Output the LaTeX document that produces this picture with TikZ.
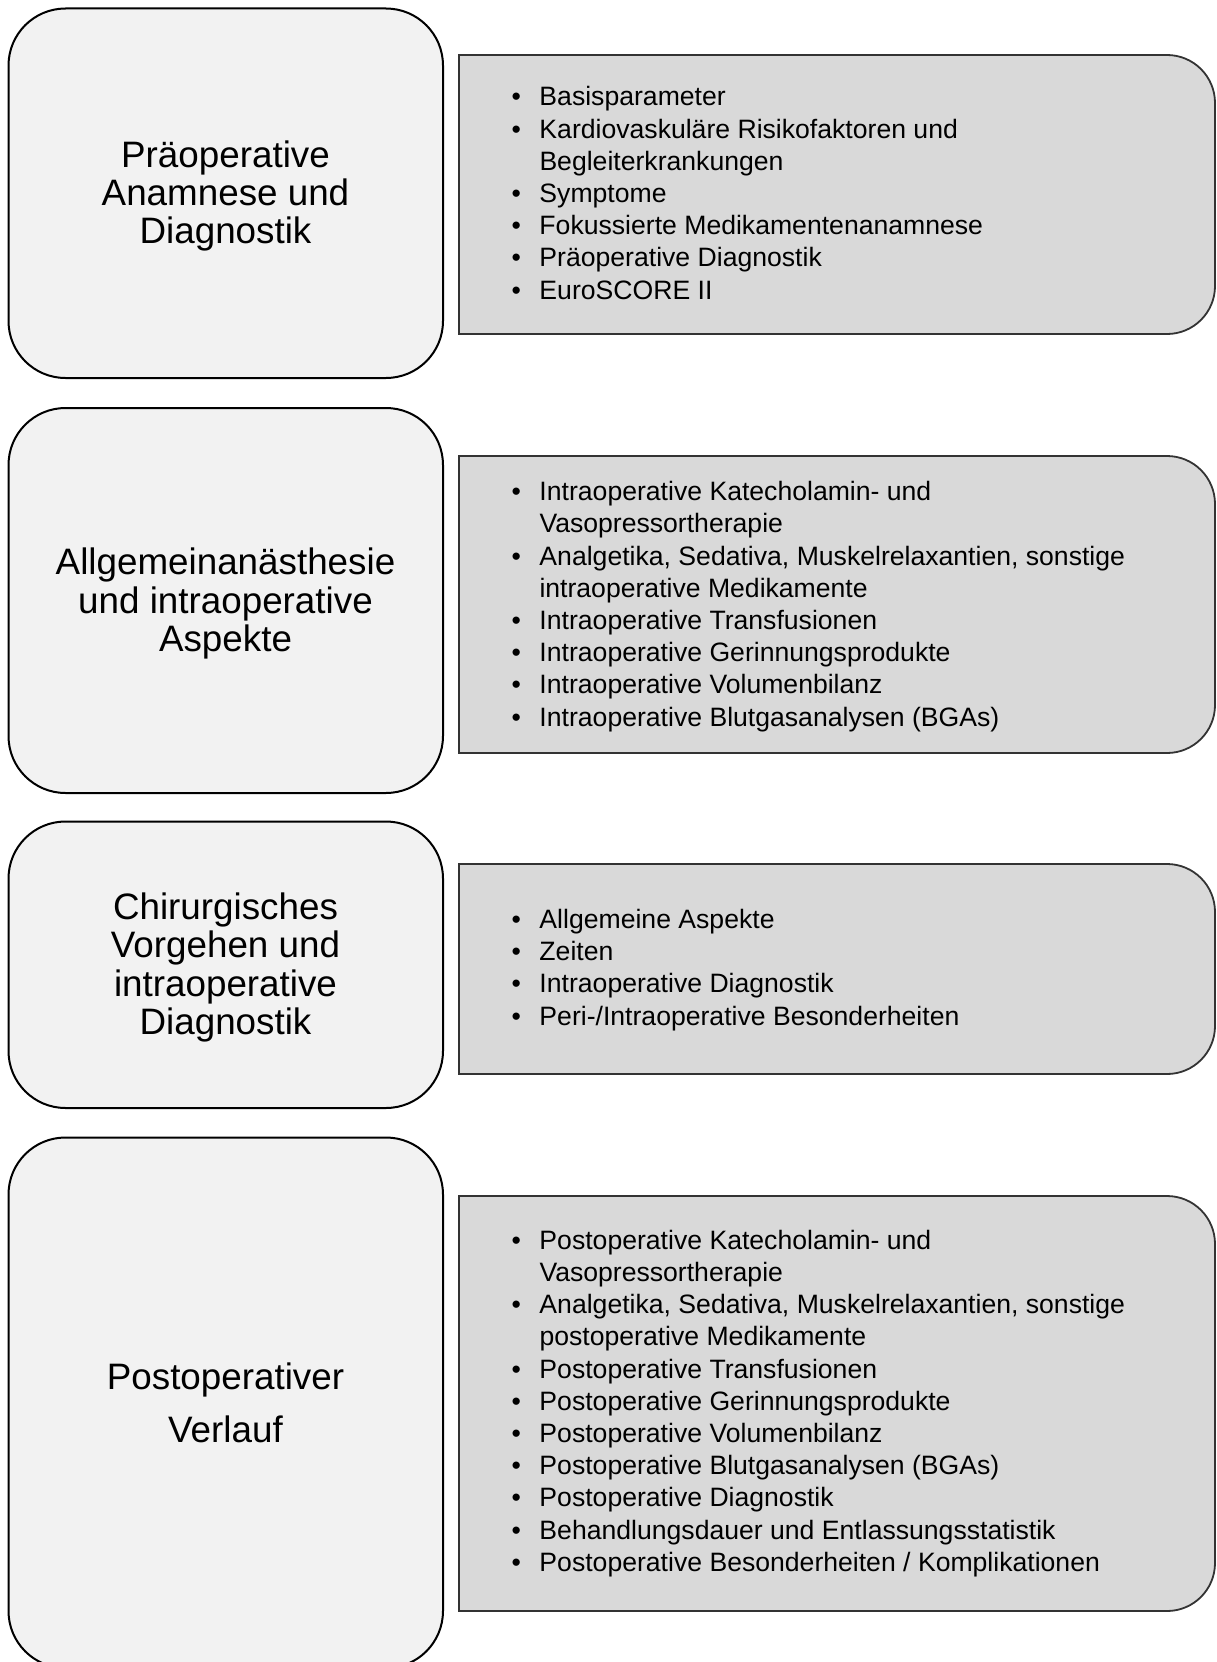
\documentclass[tikz,border=0pt]{standalone}
\usepackage{fontspec}
\setmainfont{Liberation Sans}

\newcommand{\itm}{\makebox[28pt][l]{\textbullet}}
\newcommand{\cnt}{\makebox[28pt][l]{}}

\tikzset{
    phasebox/.style={fill=black!5, draw=black, line width=2pt, rounded corners=57pt},
    listbox/.style={fill=black!15, draw=black!80, line width=1.8pt},
    phasetext/.style={align=center, inner sep=0pt, font=\fontsize{36.8}{38.3}\selectfont},
    listtext/.style={align=left, anchor=west, inner sep=0pt, font=\fontsize{26.6}{32.2}\selectfont}
}

\begin{document}
\begin{tikzpicture}[x=1pt, y=-1pt]
        \useasboundingbox (0,0) rectangle (1216,1662);

        % left boxes
        \filldraw[phasebox] (8.5,8.5) rectangle (443,378);
        \filldraw[phasebox] (8.5,408) rectangle (443,793);
        \filldraw[phasebox] (8.5,821.5) rectangle (443,1108);
        \filldraw[phasebox] (8.5,1137.5) rectangle (443,1668);

        % right boxes
        \filldraw[listbox] (459,55) -- (1167,55) arc[start angle=-90, end angle=0, radius=48]
            -- (1215,286) arc[start angle=0, end angle=90, radius=48] -- (459,334) -- cycle;
        \filldraw[listbox] (459,456) -- (1167,456) arc[start angle=-90, end angle=0, radius=48]
            -- (1215,705) arc[start angle=0, end angle=90, radius=48] -- (459,753) -- cycle;
        \filldraw[listbox] (459,864) -- (1167,864) arc[start angle=-90, end angle=0, radius=48]
            -- (1215,1026) arc[start angle=0, end angle=90, radius=48] -- (459,1074) -- cycle;
        \filldraw[listbox] (459,1196) -- (1167,1196) arc[start angle=-90, end angle=0, radius=48]
            -- (1215,1563) arc[start angle=0, end angle=90, radius=48] -- (459,1611) -- cycle;

        % phase titles
        \draw (225.5,196) node[phasetext] (pre) {Präoperative\\Anamnese und\\Diagnostik};
        \draw (225.5,603.5) node[phasetext] (intra) {Allgemeinanästhesie\\und intraoperative\\Aspekte};
        \draw (225.5,967.5) node[phasetext] (chir) {Chirurgisches\\Vorgehen und\\intraoperative\\Diagnostik};
        \draw (225.5,1402.5) node[phasetext] (post) {Postoperativer\\[14.7pt]Verlauf};

        % lists
        \draw (511.3,193) node[listtext] (prelist) {\itm Basisparameter\\
            \itm Kardiovaskuläre Risikofaktoren und\\
            \cnt Begleiterkrankungen\\
            \itm Symptome\\
            \itm Fokussierte Medikamentenanamnese\\
            \itm Präoperative Diagnostik\\
            \itm EuroSCORE II};
        \draw (511.3,606.5) node[listtext] (intralist) {\itm Intraoperative Katecholamin- und\\
            \cnt Vasopressortherapie\\
            \itm Analgetika, Sedativa, Muskelrelaxantien, sonstige\\
            \cnt intraoperative Medikamente\\
            \itm Intraoperative Transfusionen\\
            \itm Intraoperative Gerinnungsprodukte\\
            \itm Intraoperative Volumenbilanz\\
            \itm Intraoperative Blutgasanalysen (BGAs)};
        \draw (511.3,970) node[listtext] (chirlist) {\itm Allgemeine Aspekte\\
            \itm Zeiten\\
            \itm Intraoperative Diagnostik\\
            \itm Peri-/Intraoperative Besonderheiten};
        \draw (511.3,1403.5) node[listtext] (postlist) {\itm Postoperative Katecholamin- und\\
            \cnt Vasopressortherapie\\
            \itm Analgetika, Sedativa, Muskelrelaxantien, sonstige\\
            \cnt postoperative Medikamente\\
            \itm Postoperative Transfusionen\\
            \itm Postoperative Gerinnungsprodukte\\
            \itm Postoperative Volumenbilanz\\
            \itm Postoperative Blutgasanalysen (BGAs)\\
            \itm Postoperative Diagnostik\\
            \itm Behandlungsdauer und Entlassungsstatistik\\
            \itm Postoperative Besonderheiten / Komplikationen};
\end{tikzpicture}
\end{document}
